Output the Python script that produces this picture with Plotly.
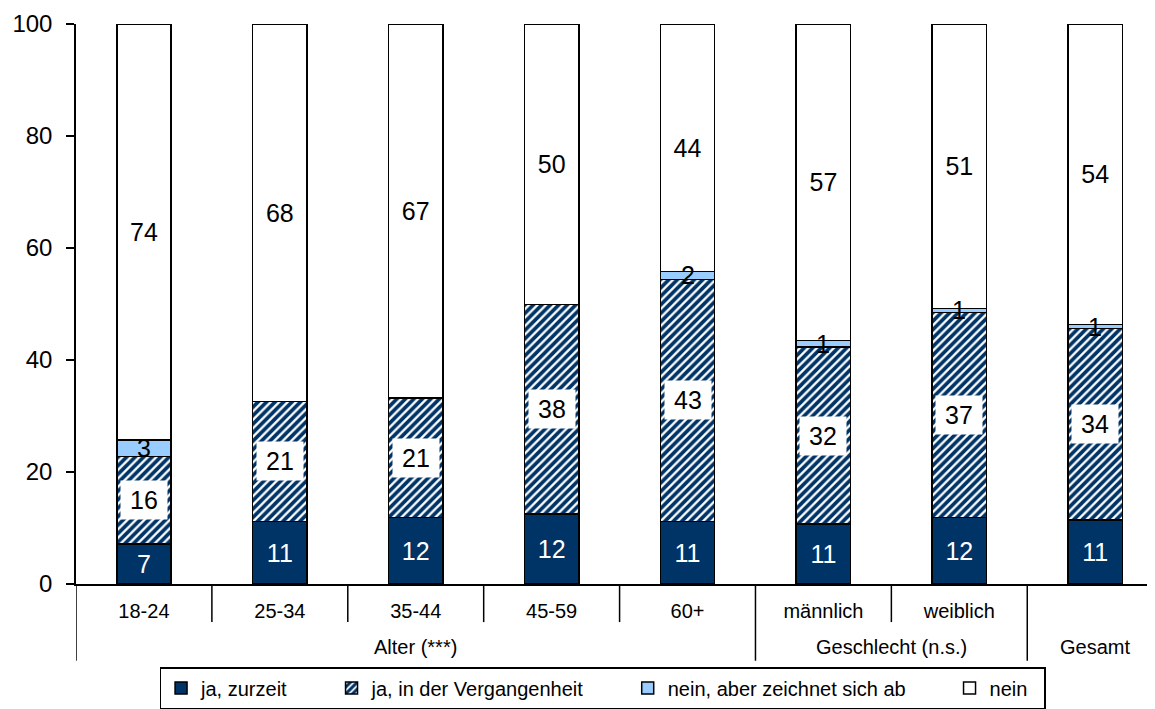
import plotly.graph_objects as go

# categories
cats = ["18-24", "25-34", "35-44", "45-59", "60+", "männlich", "weiblich", "Gesamt"]
tick_labels = ["18-24", "25-34", "35-44", "45-59", "60+", "männlich", "weiblich", ""]
group_names = ["Alter (***)", "Geschlecht (n.s.)", "Gesamt"]
group_sizes = [5, 2, 1]
series_names = ["ja, zurzeit", "ja, in der Vergangenheit", "nein, aber zeichnet sich ab", "nein"]

# stacked shares (%)
ja_zurzeit = [7.1, 11.2, 11.9, 12.5, 11.2, 10.7, 11.9, 11.4]
ja_vergangen = [15.7, 21.4, 21.3, 37.4, 43.2, 31.6, 36.6, 34.2]
nein_abzeichnet = [2.9, 0, 0, 0, 1.4, 1.2, 0.7, 0.7]
nein = [74.3, 67.4, 66.8, 50.1, 44.2, 56.5, 50.8, 53.7]

lbl_zurzeit = ["7", "11", "12", "12", "11", "11", "12", "11"]
lbl_vergangen = ["16", "21", "21", "38", "43", "32", "37", "34"]
lbl_abzeichnet = ["3", "", "", "", "2", "1", "1", "1"]
lbl_nein = ["74", "68", "67", "50", "44", "57", "51", "54"]

NAVY = "#003366"
LIGHT = "#99CCFF"
FONT = "Arial, Liberation Sans, sans-serif"
PAD = "\u00a0" * 7  # extra room between legend entries

xs = list(range(len(cats)))
fig = go.Figure()

fig.add_bar(x=xs, y=ja_zurzeit, name=series_names[0] + PAD,
            marker=dict(color=NAVY, line=dict(color="black", width=1.5)),
            text=lbl_zurzeit, textposition="inside", insidetextanchor="middle",
            textfont=dict(color="white", size=25, family=FONT), constraintext="none")
fig.add_bar(x=xs, y=ja_vergangen, name=series_names[1] + PAD,
            marker=dict(color="white", line=dict(color="black", width=1.5),
                        pattern=dict(shape="/", fgcolor=NAVY, bgcolor="white",
                                     size=6, solidity=0.62, fgopacity=1)))
fig.add_bar(x=xs, y=nein_abzeichnet, name=series_names[2] + PAD,
            marker=dict(color=LIGHT, line=dict(color="black", width=1.5)))
fig.add_bar(x=xs, y=nein, name=series_names[3] + "\u00a0\u00a0",
            marker=dict(color="white", line=dict(color="black", width=1.5)),
            text=lbl_nein, textposition="inside", insidetextanchor="middle",
            textfont=dict(color="black", size=25, family=FONT), constraintext="none")

# labels on the hatched and light-blue segments
for i in xs:
    base = ja_zurzeit[i]
    fig.add_annotation(x=i, y=base + ja_vergangen[i] / 2, text=lbl_vergangen[i],
                       showarrow=False, bgcolor="white", width=44, height=36,
                       font=dict(size=25, color="black", family=FONT))
    if lbl_abzeichnet[i]:
        base2 = base + ja_vergangen[i]
        fig.add_annotation(x=i, y=base2 + nein_abzeichnet[i] / 2, text=lbl_abzeichnet[i],
                           showarrow=False, font=dict(size=25, color="black", family=FONT))

# two-level category axis: short dividers between categories, long ones between groups
start = 0
fig.add_shape(type="line", xref="x", yref="paper", x0=-0.5, x1=-0.5, y0=0, y1=-0.137,
              line=dict(color="black", width=1.5))
for name, size in zip(group_names, group_sizes):
    end = start + size
    for k in range(start, end - 1):
        fig.add_shape(type="line", xref="x", yref="paper", x0=k + 0.5, x1=k + 0.5,
                      y0=0, y1=-0.068, line=dict(color="black", width=1.5))
    fig.add_shape(type="line", xref="x", yref="paper", x0=end - 0.5, x1=end - 0.5,
                  y0=0, y1=-0.137, line=dict(color="black", width=1.5))
    fig.add_annotation(x=(start + end - 1) / 2, xref="x", y=-0.112, yref="paper",
                       text=name, showarrow=False, yanchor="middle",
                       font=dict(size=20, color="black", family=FONT))
    start = end

# page body has an 8px margin, so the figure is sized to the remaining window
fig.update_layout(
    width=1147, height=701,
    barmode="stack", bargap=0.6,
    plot_bgcolor="white", paper_bgcolor="white",
    margin=dict(l=68, r=0, t=16, b=124),
    font=dict(family=FONT, color="black"),
    showlegend=True,
    legend=dict(orientation="h", x=0.488, xanchor="center", y=-0.148, yanchor="top",
                bordercolor="black", borderwidth=1.5, font=dict(size=20),
                traceorder="normal", itemwidth=30),
)
fig.update_yaxes(range=[0, 100], dtick=20, showgrid=False, showline=True,
                 linecolor="black", linewidth=1.5, ticks="outside", ticklen=8,
                 tickcolor="black", tickwidth=1.5, tickfont=dict(size=24),
                 ticklabelstandoff=9, zeroline=False, automargin=False)
fig.update_xaxes(range=[-0.5, 7.44], tickvals=xs, ticktext=tick_labels,
                 showline=True, linecolor="black", linewidth=1.5, ticks="",
                 tickfont=dict(size=20), ticklabelstandoff=8, showgrid=False,
                 zeroline=False, automargin=False)

fig.write_html("out.html")
